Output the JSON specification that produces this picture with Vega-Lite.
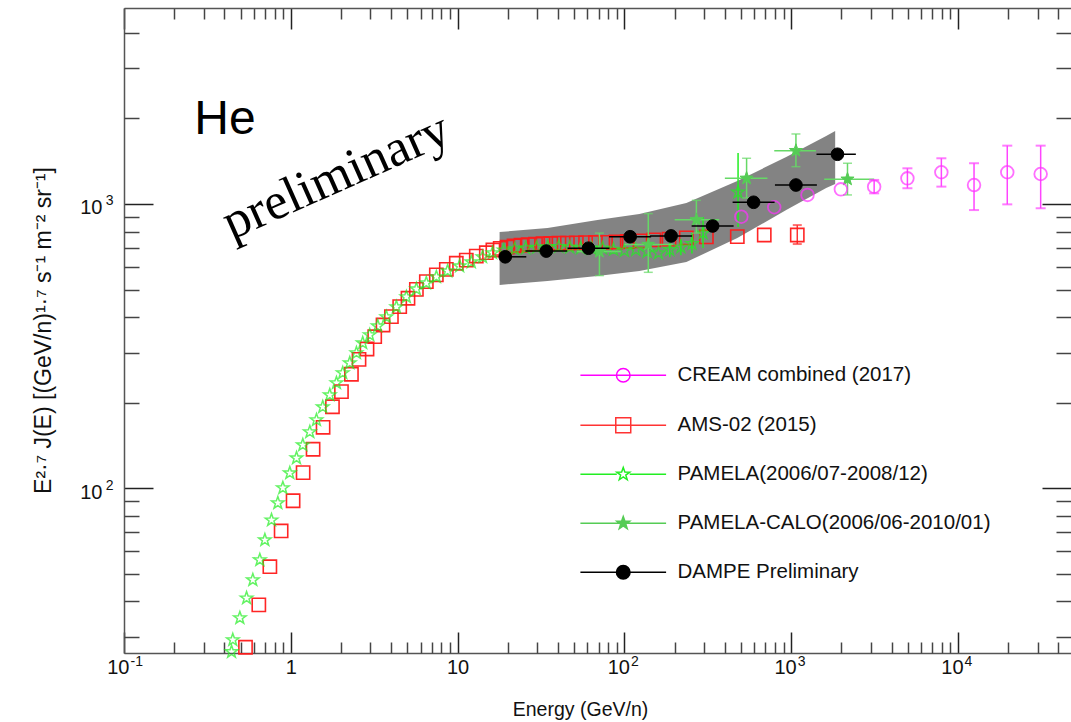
{
  "$schema": "https://vega.github.io/schema/vega-lite/v6.json",
  "width": 947,
  "height": 645,
  "autosize": {"type": "none"},
  "padding": {"left": 124, "top": 8, "right": 0, "bottom": 69},
  "background": "white",
  "config": {
    "view": {"stroke": null},
    "font": "Liberation Sans",
    "axis": {
      "grid": false,
      "labelFont": "Liberation Sans",
      "labelFontSize": 20,
      "labelColor": "#111111",
      "titleFont": "Liberation Sans",
      "titleFontSize": 19.5,
      "titleFontWeight": "normal",
      "titleColor": "#111111",
      "domainColor": "#555555",
      "domainWidth": 1.5,
      "tickColor": "#222222",
      "tickWidth": 1.5,
      "labelFlush": false,
      "labelOverlap": false
    },
    "legend": {
      "orient": "none",
      "legendX": 489,
      "legendY": 357,
      "labelFont": "Liberation Sans",
      "labelFontSize": 20.5,
      "labelColor": "#111111",
      "labelLimit": 400,
      "symbolSize": 185,
      "symbolStrokeWidth": 1.5,
      "labelOffset": 44,
      "rowPadding": 28
    }
  },
  "datasets": {
    "band": [
      {"E": 17.85, "hi": 797, "lo": 519},
      {"E": 34.6, "hi": 823, "lo": 536},
      {"E": 68.9, "hi": 878, "lo": 558},
      {"E": 122.9, "hi": 922, "lo": 581},
      {"E": 235.1, "hi": 1008, "lo": 625},
      {"E": 475, "hi": 1205, "lo": 759},
      {"E": 933, "hi": 1463, "lo": 952},
      {"E": 1620, "hi": 1735, "lo": 1138},
      {"E": 1834, "hi": 1807, "lo": 1176}
    ],
    "ams": [
      {"E": 0.535, "F": 27.6}, {"E": 0.643, "F": 38.9}, {"E": 0.749, "F": 53.0},
      {"E": 0.875, "F": 70.8}, {"E": 1.032, "F": 90.4}, {"E": 1.185, "F": 113.5},
      {"E": 1.36, "F": 137.2}, {"E": 1.561, "F": 163.9}, {"E": 1.777, "F": 193.6},
      {"E": 2.012, "F": 218.7}, {"E": 2.309, "F": 251.8}, {"E": 2.564, "F": 284.2},
      {"E": 2.863, "F": 309}, {"E": 3.184, "F": 341.4}, {"E": 3.571, "F": 375.3},
      {"E": 4.009, "F": 401.5}, {"E": 4.496, "F": 435.4}, {"E": 5.04, "F": 466},
      {"E": 5.66, "F": 501}, {"E": 6.494, "F": 533}, {"E": 7.456, "F": 563},
      {"E": 8.558, "F": 589}, {"E": 9.82, "F": 619}, {"E": 11.27, "F": 635},
      {"E": 12.94, "F": 656}, {"E": 14.86, "F": 674}, {"E": 16.27, "F": 689},
      {"E": 18.0, "F": 698}, {"E": 19.8, "F": 705}, {"E": 21.8, "F": 712},
      {"E": 24.0, "F": 716}, {"E": 26.5, "F": 720}, {"E": 29.3, "F": 722},
      {"E": 32.5, "F": 725}, {"E": 36.2, "F": 726}, {"E": 40.5, "F": 728},
      {"E": 45.5, "F": 728}, {"E": 51.5, "F": 730}, {"E": 58.5, "F": 731},
      {"E": 67, "F": 732}, {"E": 77, "F": 733}, {"E": 89, "F": 735},
      {"E": 104, "F": 738}, {"E": 124, "F": 742}, {"E": 150, "F": 748},
      {"E": 185, "F": 752}, {"E": 235, "F": 760}, {"E": 310, "F": 766},
      {"E": 475, "F": 768}, {"E": 689, "F": 778},
      {"E": 1087, "F": 778, "lo": 723, "hi": 843}
    ],
    "pamela": [
      {"E": 0.4413, "F": 26.6}, {"E": 0.449, "F": 29.3}, {"E": 0.495, "F": 35.0},
      {"E": 0.543, "F": 41.1}, {"E": 0.592, "F": 47.6}, {"E": 0.652, "F": 56.0},
      {"E": 0.699, "F": 65.8}, {"E": 0.766, "F": 77.3}, {"E": 0.836, "F": 88.8},
      {"E": 0.896, "F": 100.3}, {"E": 0.986, "F": 113.2}, {"E": 1.082, "F": 127.8},
      {"E": 1.18, "F": 142.0}, {"E": 1.30, "F": 157.8}, {"E": 1.425, "F": 173.9},
      {"E": 1.554, "F": 193.2}, {"E": 1.712, "F": 212.9}, {"E": 1.878, "F": 234.7},
      {"E": 2.048, "F": 254.5}, {"E": 2.256, "F": 275.9}, {"E": 2.474, "F": 299.2},
      {"E": 2.698, "F": 324.4}, {"E": 2.972, "F": 346.2}, {"E": 3.319, "F": 372.3},
      {"E": 3.742, "F": 400.5}, {"E": 4.295, "F": 434.3}, {"E": 4.93, "F": 471},
      {"E": 5.66, "F": 502}, {"E": 6.49, "F": 527}, {"E": 7.46, "F": 554},
      {"E": 8.71, "F": 581}, {"E": 10.28, "F": 605}, {"E": 12.08, "F": 625},
      {"E": 14.11, "F": 651}, {"E": 16.2, "F": 673}, {"E": 18.9, "F": 688},
      {"E": 22, "F": 695}, {"E": 25.6, "F": 700}, {"E": 29.8, "F": 703},
      {"E": 34.7, "F": 706}, {"E": 40.4, "F": 708}, {"E": 47, "F": 704},
      {"E": 54.7, "F": 700}, {"E": 63.7, "F": 697}, {"E": 74, "F": 699},
      {"E": 86, "F": 692}, {"E": 100, "F": 685}, {"E": 117, "F": 690},
      {"E": 137, "F": 680}, {"E": 160, "F": 672},
      {"E": 187, "F": 690, "lo": 650, "hi": 730},
      {"E": 218, "F": 705, "lo": 660, "hi": 750},
      {"E": 254, "F": 725, "lo": 670, "hi": 790},
      {"E": 296, "F": 790, "lo": 700, "hi": 900},
      {"E": 480, "F": 1100, "lo": 830, "hi": 1510}
    ],
    "calo": [
      {"E": 70.8, "F": 680, "lo": 560, "hi": 790, "xlo": 52, "xhi": 95},
      {"E": 139, "F": 720, "lo": 575, "hi": 925, "xlo": 100, "xhi": 195},
      {"E": 270, "F": 880, "lo": 790, "hi": 1030, "xlo": 200, "xhi": 370},
      {"E": 540, "F": 1231, "lo": 1050, "hi": 1448, "xlo": 400, "xhi": 720},
      {"E": 1067, "F": 1540, "lo": 1353, "hi": 1763, "xlo": 791, "xhi": 1406},
      {"E": 2174, "F": 1222, "lo": 1076, "hi": 1391, "xlo": 1576, "xhi": 3141}
    ],
    "cream": [
      {"E": 502, "F": 902},
      {"E": 791, "F": 974},
      {"E": 1252, "F": 1076},
      {"E": 1984, "F": 1126},
      {"E": 3141, "F": 1150, "lo": 1090, "hi": 1215},
      {"E": 4971, "F": 1231, "lo": 1136, "hi": 1335},
      {"E": 7943, "F": 1293, "lo": 1151, "hi": 1448},
      {"E": 12470, "F": 1166, "lo": 952, "hi": 1391},
      {"E": 19730, "F": 1293, "lo": 997, "hi": 1604},
      {"E": 31280, "F": 1275, "lo": 966, "hi": 1604}
    ],
    "dampe": [
      {"E": 19.3, "F": 652, "xlo": 17.9, "xhi": 25.8},
      {"E": 34.0, "F": 683, "xlo": 25.5, "xhi": 45.4},
      {"E": 60.9, "F": 699, "xlo": 45.6, "xhi": 81.4},
      {"E": 108.2, "F": 767, "xlo": 81.0, "xhi": 144.6},
      {"E": 190.4, "F": 772, "xlo": 142.5, "xhi": 254.4},
      {"E": 337.9, "F": 837, "xlo": 252.9, "xhi": 451.4},
      {"E": 594.8, "F": 1014, "xlo": 445.2, "xhi": 794.6},
      {"E": 1067, "F": 1166, "xlo": 798.7, "xhi": 1425},
      {"E": 1893, "F": 1496, "xlo": 1417, "xhi": 2440}
    ]
  },
  "layer": [
    {
      "data": {"name": "band"},
      "mark": {"type": "area", "fill": "#767676", "opacity": 0.9},
      "encoding": {
        "x": {
          "field": "E", "type": "quantitative",
          "scale": {"type": "log", "domain": [0.1, 47550], "nice": false},
          "axis": {
            "orient": "bottom",
            "values": [0.1, 1, 10, 100, 1000, 10000],
            "tickSize": -21,
            "labelExpr": "datum.value == 1 ? '1' : '10'",
            "labelAlign": {"condition": {"test": "datum.value == 1 || datum.value == 10", "value": "center"}, "value": "right"},
            "labelOffset": {"condition": {"test": "datum.value == 1 || datum.value == 10", "value": 0}, "value": 5},
            "labelPadding": 25,
            "title": "Energy (GeV/n)",
            "titleX": 456,
            "titleY": 62,
            "titleAlign": "center",
            "titleBaseline": "alphabetic"
          }
        },
        "y": {
          "field": "hi", "type": "quantitative",
          "scale": {"type": "log", "domain": [26.35, 4890], "nice": false},
          "axis": {
            "orient": "left",
            "values": [100, 1000],
            "tickSize": -29,
            "labelExpr": "'10'",
            "labelOffset": 4,
            "labelPadding": 51,
            "title": "E²·⁷ J(E) [(GeV/n)¹·⁷ s⁻¹ m⁻² sr⁻¹]",
            "titleFontSize": 23,
            "titleAngle": -90,
            "titleX": -81,
            "titleY": 322,
            "titleAlign": "center",
            "titleBaseline": "middle"
          }
        },
        "y2": {"field": "lo"}
      }
    },
    {
      "data": {"name": "ams"},
      "transform": [{"filter": "isValid(datum.lo)"}],
      "mark": {"type": "rule", "color": "#ff3333", "strokeWidth": 1.5},
      "encoding": {
        "x": {"field": "E", "type": "quantitative", "axis": null},
        "y": {"field": "lo", "type": "quantitative", "axis": null},
        "y2": {"field": "hi"}
      }
    },
    {
      "data": {"name": "ams"},
      "transform": [{"filter": "isValid(datum.lo)"}],
      "mark": {"type": "tick", "orient": "horizontal", "size": 9, "thickness": 2, "color": "#ff3333"},
      "encoding": {
        "x": {"field": "E", "type": "quantitative", "axis": null},
        "y": {"field": "lo", "type": "quantitative", "axis": null}
      }
    },
    {
      "data": {"name": "ams"},
      "transform": [{"filter": "isValid(datum.hi)"}],
      "mark": {"type": "tick", "orient": "horizontal", "size": 9, "thickness": 2, "color": "#ff3333"},
      "encoding": {
        "x": {"field": "E", "type": "quantitative", "axis": null},
        "y": {"field": "hi", "type": "quantitative", "axis": null}
      }
    },
    {
      "data": {"name": "ams"},
      "mark": {"type": "point", "shape": "square", "filled": false, "size": 175, "stroke": "#ff1a1a", "strokeWidth": 1.6, "opacity": 0.95},
      "encoding": {
        "x": {
          "field": "E", "type": "quantitative",
          "axis": {
            "orient": "bottom",
            "values": [0.2, 0.3, 0.4, 0.5, 0.6, 0.7, 0.8, 0.9, 2, 3, 4, 5, 6, 7, 8, 9, 20, 30, 40, 50, 60, 70, 80, 90, 200, 300, 400, 500, 600, 700, 800, 900, 2000, 3000, 4000, 5000, 6000, 7000, 8000, 9000, 20000, 30000, 40000],
            "tickSize": -11,
            "tickColor": "#444444",
            "labels": false,
            "domain": false,
            "title": null
          }
        },
        "y": {
          "field": "F", "type": "quantitative",
          "axis": {
            "orient": "left",
            "values": [30, 40, 50, 60, 70, 80, 90, 200, 300, 400, 500, 600, 700, 800, 900, 2000, 3000, 4000],
            "tickSize": -15,
            "tickColor": "#444444",
            "labels": false,
            "domain": false,
            "title": null
          }
        }
      }
    },
    {
      "data": {"name": "pamela"},
      "transform": [{"filter": "isValid(datum.lo)"}],
      "mark": {"type": "rule", "color": "#22ee22", "strokeWidth": 1.5},
      "encoding": {
        "x": {"field": "E", "type": "quantitative", "axis": null},
        "y": {"field": "lo", "type": "quantitative", "axis": null},
        "y2": {"field": "hi"}
      }
    },
    {
      "data": {"name": "pamela"},
      "mark": {
        "type": "point",
        "shape": "M0,-1L0.235,-0.324L0.951,-0.309L0.38,0.124L0.588,0.809L0,0.4L-0.588,0.809L-0.38,0.124L-0.951,-0.309L-0.235,-0.324Z",
        "filled": false, "size": 169, "stroke": "#22ee22", "strokeWidth": 1.5
      },
      "encoding": {
        "x": {
          "field": "E", "type": "quantitative",
          "axis": {
            "orient": "bottom",
            "values": [0.1, 100, 1000, 10000],
            "ticks": false,
            "domain": false,
            "labelExpr": "datum.value == 0.1 ? '-1' : datum.value == 100 ? '2' : datum.value == 1000 ? '3' : '4'",
            "labelFontSize": 14,
            "labelAlign": "left",
            "labelOffset": 6,
            "labelPadding": 1,
            "title": null
          }
        },
        "y": {
          "field": "F", "type": "quantitative",
          "axis": {
            "orient": "left",
            "values": [100, 1000],
            "ticks": false,
            "domain": false,
            "labelExpr": "datum.value == 100 ? '2' : '3'",
            "labelFontSize": 14,
            "labelAlign": "right",
            "labelOffset": -3,
            "labelPadding": 11,
            "title": null
          }
        }
      }
    },
    {
      "data": {"name": "calo"},
      "mark": {"type": "rule", "color": "#66d966", "strokeWidth": 1.5},
      "encoding": {
        "x": {"field": "E", "type": "quantitative", "axis": null},
        "y": {"field": "lo", "type": "quantitative", "axis": null},
        "y2": {"field": "hi"}
      }
    },
    {
      "data": {"name": "calo"},
      "mark": {"type": "rule", "color": "#66d966", "strokeWidth": 1.5},
      "encoding": {
        "x": {"field": "xlo", "type": "quantitative", "axis": null},
        "x2": {"field": "xhi"},
        "y": {"field": "F", "type": "quantitative", "axis": null}
      }
    },
    {
      "data": {"name": "calo"},
      "mark": {"type": "tick", "orient": "horizontal", "size": 9, "thickness": 1.5, "color": "#66d966"},
      "encoding": {
        "x": {"field": "E", "type": "quantitative", "axis": null},
        "y": {"field": "lo", "type": "quantitative", "axis": null}
      }
    },
    {
      "data": {"name": "calo"},
      "mark": {"type": "tick", "orient": "horizontal", "size": 9, "thickness": 1.5, "color": "#66d966"},
      "encoding": {
        "x": {"field": "E", "type": "quantitative", "axis": null},
        "y": {"field": "hi", "type": "quantitative", "axis": null}
      }
    },
    {
      "data": {"name": "calo"},
      "mark": {
        "type": "point",
        "shape": "M0,-1L0.235,-0.324L0.951,-0.309L0.38,0.124L0.588,0.809L0,0.4L-0.588,0.809L-0.38,0.124L-0.951,-0.309L-0.235,-0.324Z",
        "filled": true, "size": 190, "fill": "#55cc55", "stroke": "#55cc55", "strokeWidth": 1, "opacity": 1
      },
      "encoding": {
        "x": {"field": "E", "type": "quantitative", "axis": null},
        "y": {"field": "F", "type": "quantitative", "axis": null}
      }
    },
    {
      "data": {"name": "cream"},
      "transform": [{"filter": "isValid(datum.lo)"}],
      "mark": {"type": "rule", "color": "#ff44ff", "strokeWidth": 1.5},
      "encoding": {
        "x": {"field": "E", "type": "quantitative", "axis": null},
        "y": {"field": "lo", "type": "quantitative", "axis": null},
        "y2": {"field": "hi"}
      }
    },
    {
      "data": {"name": "cream"},
      "transform": [{"filter": "isValid(datum.lo)"}],
      "mark": {"type": "tick", "orient": "horizontal", "size": 10, "thickness": 2, "color": "#ff44ff"},
      "encoding": {
        "x": {"field": "E", "type": "quantitative", "axis": null},
        "y": {"field": "lo", "type": "quantitative", "axis": null}
      }
    },
    {
      "data": {"name": "cream"},
      "transform": [{"filter": "isValid(datum.hi)"}],
      "mark": {"type": "tick", "orient": "horizontal", "size": 10, "thickness": 2, "color": "#ff44ff"},
      "encoding": {
        "x": {"field": "E", "type": "quantitative", "axis": null},
        "y": {"field": "hi", "type": "quantitative", "axis": null}
      }
    },
    {
      "data": {"name": "cream"},
      "mark": {"type": "point", "shape": "circle", "filled": false, "size": 160, "stroke": "#ff33ff", "strokeWidth": 1.8},
      "encoding": {
        "x": {
          "field": "E", "type": "quantitative",
          "axis": {
            "orient": "top",
            "values": [0.2, 0.3, 0.4, 0.5, 0.6, 0.7, 0.8, 0.9, 2, 3, 4, 5, 6, 7, 8, 9, 20, 30, 40, 50, 60, 70, 80, 90, 200, 300, 400, 500, 600, 700, 800, 900, 2000, 3000, 4000, 5000, 6000, 7000, 8000, 9000, 20000, 30000, 40000],
            "tickSize": -11,
            "tickColor": "#444444",
            "labels": false,
            "domain": false,
            "title": null
          }
        },
        "y": {
          "field": "F", "type": "quantitative",
          "axis": {
            "orient": "right",
            "values": [30, 40, 50, 60, 70, 80, 90, 200, 300, 400, 500, 600, 700, 800, 900, 2000, 3000, 4000],
            "tickSize": -15,
            "tickColor": "#444444",
            "labels": false,
            "domain": false,
            "title": null
          }
        }
      }
    },
    {
      "data": {"name": "dampe"},
      "mark": {"type": "rule", "color": "#000000", "strokeWidth": 1.5},
      "encoding": {
        "x": {"field": "xlo", "type": "quantitative", "axis": null},
        "x2": {"field": "xhi"},
        "y": {"field": "F", "type": "quantitative", "axis": null}
      }
    },
    {
      "data": {"name": "dampe"},
      "mark": {"type": "point", "shape": "circle", "filled": true, "size": 160, "fill": "#000000", "stroke": "#000000", "strokeWidth": 1, "opacity": 1},
      "encoding": {
        "x": {
          "field": "E", "type": "quantitative",
          "axis": {
            "orient": "top",
            "values": [0.1, 1, 10, 100, 1000, 10000],
            "tickSize": -21,
            "labels": false,
            "title": null
          }
        },
        "y": {
          "field": "F", "type": "quantitative",
          "axis": {
            "orient": "right",
            "values": [100, 1000],
            "tickSize": -29,
            "labels": false,
            "domain": false,
            "title": null
          }
        }
      }
    },
    {
      "data": {"values": [{}]},
      "mark": {"type": "text", "text": "He", "font": "Liberation Sans", "fontSize": 48, "align": "center", "baseline": "middle", "color": "#000000"},
      "encoding": {
        "x": {"datum": 0.403, "type": "quantitative", "axis": null},
        "y": {"datum": 1975, "type": "quantitative", "axis": null}
      }
    },
    {
      "data": {"values": [{}]},
      "mark": {"type": "text", "text": "preliminary", "font": "Liberation Serif", "fontSize": 52, "angle": -24, "align": "center", "baseline": "middle", "color": "#000000"},
      "encoding": {
        "x": {"datum": 1.866, "type": "quantitative", "axis": null},
        "y": {"datum": 1254, "type": "quantitative", "axis": null}
      }
    },
    {
      "data": {"name": "dampe"},
      "transform": [{"filter": "false"}],
      "mark": {"type": "point", "filled": true, "size": 185, "strokeWidth": 1.5, "opacity": 1},
      "encoding": {
        "x": {"field": "E", "type": "quantitative", "axis": null},
        "y": {"field": "F", "type": "quantitative", "axis": null},
        "shape": {
          "field": "series", "type": "nominal",
          "scale": {
            "domain": ["CREAM combined (2017)", "AMS-02 (2015)", "PAMELA(2006/07-2008/12)", "PAMELA-CALO(2006/06-2010/01)", "DAMPE Preliminary"],
            "range": [
              "M-6.3,0H6.3M1,0A1,1,0,1,1,-1,0A1,1,0,1,1,1,0Z",
              "M-6.3,0H6.3M-1.1,-1.1H1.1V1.1H-1.1Z",
              "M-6.3,0H-0.95M0.95,0H6.3M0,-1L0.235,-0.324L0.951,-0.309L0.38,0.124L0.588,0.809L0,0.4L-0.588,0.809L-0.38,0.124L-0.951,-0.309L-0.235,-0.324Z",
              "M-6.3,0H6.3M0,-1L0.235,-0.324L0.951,-0.309L0.38,0.124L0.588,0.809L0,0.4L-0.588,0.809L-0.38,0.124L-0.951,-0.309L-0.235,-0.324Z",
              "M-6.3,0H6.3M1,0A1,1,0,1,1,-1,0A1,1,0,1,1,1,0Z"
            ]
          },
          "legend": {"title": null}
        },
        "stroke": {
          "field": "series", "type": "nominal",
          "scale": {
            "domain": ["CREAM combined (2017)", "AMS-02 (2015)", "PAMELA(2006/07-2008/12)", "PAMELA-CALO(2006/06-2010/01)", "DAMPE Preliminary"],
            "range": ["#ff00ff", "#ff3333", "#22ee22", "#55cc55", "#000000"]
          },
          "legend": {"title": null}
        },
        "fill": {
          "field": "series", "type": "nominal",
          "scale": {
            "domain": ["CREAM combined (2017)", "AMS-02 (2015)", "PAMELA(2006/07-2008/12)", "PAMELA-CALO(2006/06-2010/01)", "DAMPE Preliminary"],
            "range": ["transparent", "transparent", "transparent", "#55cc55", "#000000"]
          },
          "legend": {"title": null}
        }
      }
    }
  ],
  "resolve": {"axis": {"x": "independent", "y": "independent"}}
}
